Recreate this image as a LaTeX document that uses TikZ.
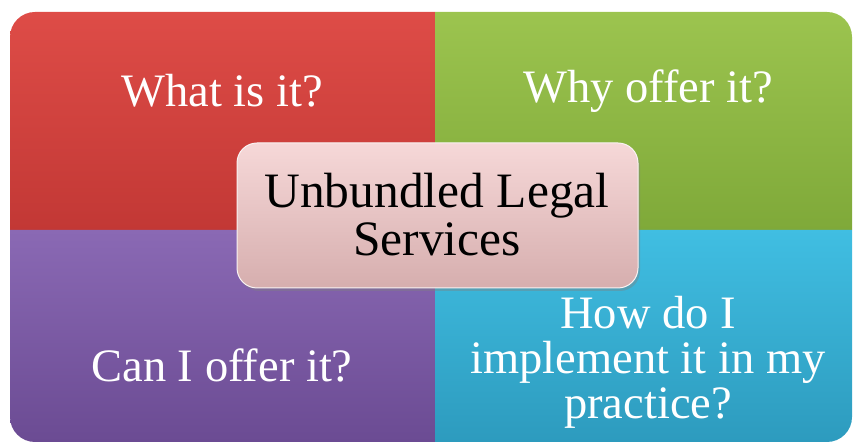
\documentclass[tikz,border=0pt]{standalone}
\usepackage{fontspec}
\setmainfont{Liberation Serif}
\usetikzlibrary{shadows}
\definecolor{redT}{HTML}{DE4C47}
\definecolor{redB}{HTML}{C23835}
\definecolor{grnT}{HTML}{9CC44F}
\definecolor{grnB}{HTML}{7FA939}
\definecolor{purT}{HTML}{8A69B4}
\definecolor{purB}{HTML}{6B4B93}
\definecolor{bluT}{HTML}{40BEE2}
\definecolor{bluB}{HTML}{2D9BBE}
\definecolor{pinkT}{HTML}{F6D8D8}
\definecolor{pinkB}{HTML}{D6AEAE}
\tikzset{
  qtext/.style={text=white, font=\fontsize{46.5}{45}\selectfont, align=center},
  ctext/.style={text=black, font=\fontsize{49.5}{48}\selectfont, align=center}
}
\begin{document}
\begin{tikzpicture}[x=1pt,y=1pt]
\useasboundingbox (0,0) rectangle (854,444);
% quadrants
\shade[top color=redT, bottom color=redB]
  (10,214) -- (10,407) arc[start angle=180,end angle=90,radius=25] -- (435,432) -- (435,214) -- cycle;
\shade[top color=grnT, bottom color=grnB]
  (435,214) -- (435,432) -- (827,432) arc[start angle=90,end angle=0,radius=25] -- (852,214) -- cycle;
\shade[top color=purT, bottom color=purB]
  (10,214) -- (10,27) arc[start angle=180,end angle=270,radius=25] -- (435,2) -- (435,214) -- cycle;
\shade[top color=bluT, bottom color=bluB]
  (435,214) -- (435,2) -- (827,2) arc[start angle=270,end angle=360,radius=25] -- (852,214) -- cycle;
% labels
\node[qtext] (what) at (222,353) {What is it?};
\node[qtext] (why) at (648,353) {Why offer it?};
\node[qtext] (can) at (222,79) {Can I offer it?};
\node[qtext] (how) at (648,82) {How do I\\implement it in my\\practice?};
% center
\shade[top color=pinkT, bottom color=pinkB, rounded corners=20pt,
  draw=white!85!pinkB, line width=1pt, drop shadow={opacity=0.4, shadow xshift=2pt, shadow yshift=-3pt}]
  (237,156) rectangle (638,301);
\node[ctext] (center) at (437,229) {Unbundled Legal\\Services};
\end{tikzpicture}
\end{document}
